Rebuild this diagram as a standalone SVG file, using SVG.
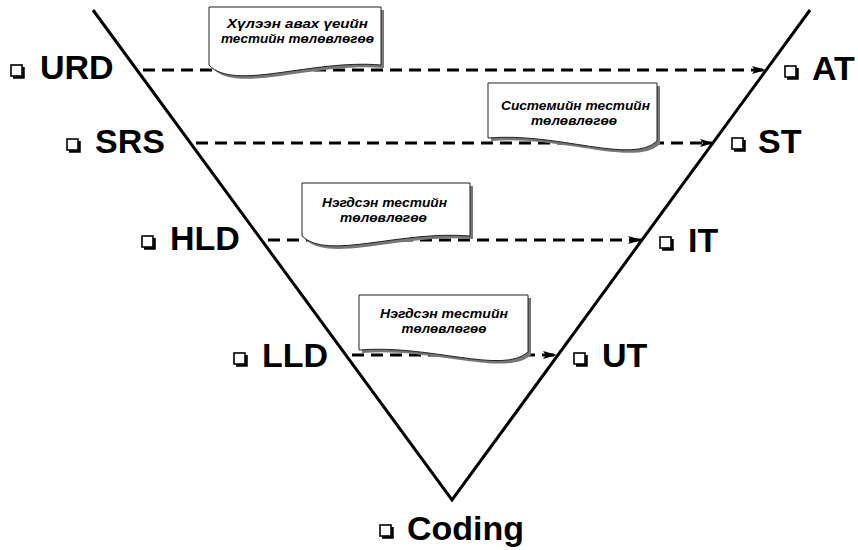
<svg xmlns="http://www.w3.org/2000/svg" xmlns:xlink="http://www.w3.org/1999/xlink" width="858" height="550" viewBox="0 0 858 550">
<style>
.lbl{font-family:"Liberation Sans",Arial,sans-serif;font-weight:bold;font-size:34px;fill:#000}
.nt{font-family:"Liberation Sans",Arial,sans-serif;font-weight:bold;font-style:italic;font-size:13.5px;fill:#000;text-anchor:middle}
.vline{fill:none;stroke:#000;stroke-width:3;stroke-linejoin:miter}
.dash{fill:none;stroke:#000;stroke-width:3;stroke-dasharray:12 7}
.note{fill:#fff;stroke:#222;stroke-width:1}
.shadow{fill:#777;stroke:none}
</style>
<defs>
<marker id="arr" markerUnits="userSpaceOnUse" markerWidth="16" markerHeight="10" refX="14" refY="4" orient="auto">
<path d="M0,0 L14,4 L0,8 L3,4 Z" fill="#000"/>
</marker>
<g id="bullet">
<polyline points="2,12.5 12.5,12.5 12.5,2" fill="none" stroke="#000" stroke-width="2.5"/>
<rect x="0" y="0" width="11" height="11" fill="#fff" stroke="#000" stroke-width="1.6"/>
</g>
</defs>
<rect width="858" height="550" fill="#fff"/>

<g id="v-shape">
<polyline class="vline" points="93,10 452,500 810,10"/>
</g>

<g id="connectors">
<line class="dash" x1="143" y1="70" x2="766" y2="70" marker-end="url(#arr)"/>
<line class="dash" x1="196" y1="143" x2="714" y2="143" marker-end="url(#arr)"/>
<line class="dash" x1="268" y1="240" x2="642" y2="240" marker-end="url(#arr)"/>
<line class="dash" x1="352" y1="355" x2="557" y2="355" marker-end="url(#arr)"/>
</g>

<g id="note-acceptance">
<path class="shadow" transform="translate(3,3)" d="M209,7 H381 V65 C311,59 234,92 209,65 Z"/>
<path class="note" d="M209,7 H381 V65 C311,59 234,92 209,65 Z"/>
<text class="nt" x="297.5" y="28" textLength="141" lengthAdjust="spacingAndGlyphs">Хүлээн авах үеийн</text>
<text class="nt" x="297.5" y="43" textLength="153" lengthAdjust="spacingAndGlyphs">тестийн төлөвлөгөө</text>
</g>

<g id="note-system">
<path class="shadow" transform="translate(3,3)" d="M488,83 H657 V141 C632,165 558,132 488,138 Z"/>
<path class="note" d="M488,83 H657 V141 C632,165 558,132 488,138 Z"/>
<text class="nt" x="575.5" y="110" textLength="149" lengthAdjust="spacingAndGlyphs">Системийн тестийн</text>
<text class="nt" x="574" y="125" textLength="86" lengthAdjust="spacingAndGlyphs">төлөвлөгөө</text>
</g>

<g id="note-integration">
<path class="shadow" transform="translate(3,3)" d="M302,183 H470 V236 C400,230 327,261 302,236 Z"/>
<path class="note" d="M302,183 H470 V236 C400,230 327,261 302,236 Z"/>
<text class="nt" x="384.5" y="207" textLength="125" lengthAdjust="spacingAndGlyphs">Нэгдсэн тестийн</text>
<text class="nt" x="383.5" y="222" textLength="87" lengthAdjust="spacingAndGlyphs">төлөвлөгөө</text>
</g>

<g id="note-unit">
<path class="shadow" transform="translate(3,3)" d="M359,295 H528 V352 C503,375 429,344 359,350 Z"/>
<path class="note" d="M359,295 H528 V352 C503,375 429,344 359,350 Z"/>
<text class="nt" x="444" y="318" textLength="128" lengthAdjust="spacingAndGlyphs">Нэгдсэн тестийн</text>
<text class="nt" x="444" y="333" textLength="85" lengthAdjust="spacingAndGlyphs">төлөвлөгөө</text>
</g>

<g id="urd"><use xlink:href="#bullet" x="11" y="65"/><text class="lbl" x="40" y="79">URD</text></g>
<g id="srs"><use xlink:href="#bullet" x="67" y="139"/><text class="lbl" x="95" y="153">SRS</text></g>
<g id="hld"><use xlink:href="#bullet" x="142" y="236"/><text class="lbl" x="170" y="250">HLD</text></g>
<g id="lld"><use xlink:href="#bullet" x="234" y="353"/><text class="lbl" x="262" y="367">LLD</text></g>
<g id="coding"><use xlink:href="#bullet" x="380" y="525"/><text class="lbl" x="407" y="540">Coding</text></g>
<g id="at"><use xlink:href="#bullet" x="785" y="66"/><text class="lbl" x="812" y="80">AT</text></g>
<g id="st"><use xlink:href="#bullet" x="732" y="138"/><text class="lbl" x="758" y="153">ST</text></g>
<g id="it"><use xlink:href="#bullet" x="660" y="237"/><text class="lbl" x="688" y="252">IT</text></g>
<g id="ut"><use xlink:href="#bullet" x="574" y="353"/><text class="lbl" x="602" y="367">UT</text></g>
</svg>
